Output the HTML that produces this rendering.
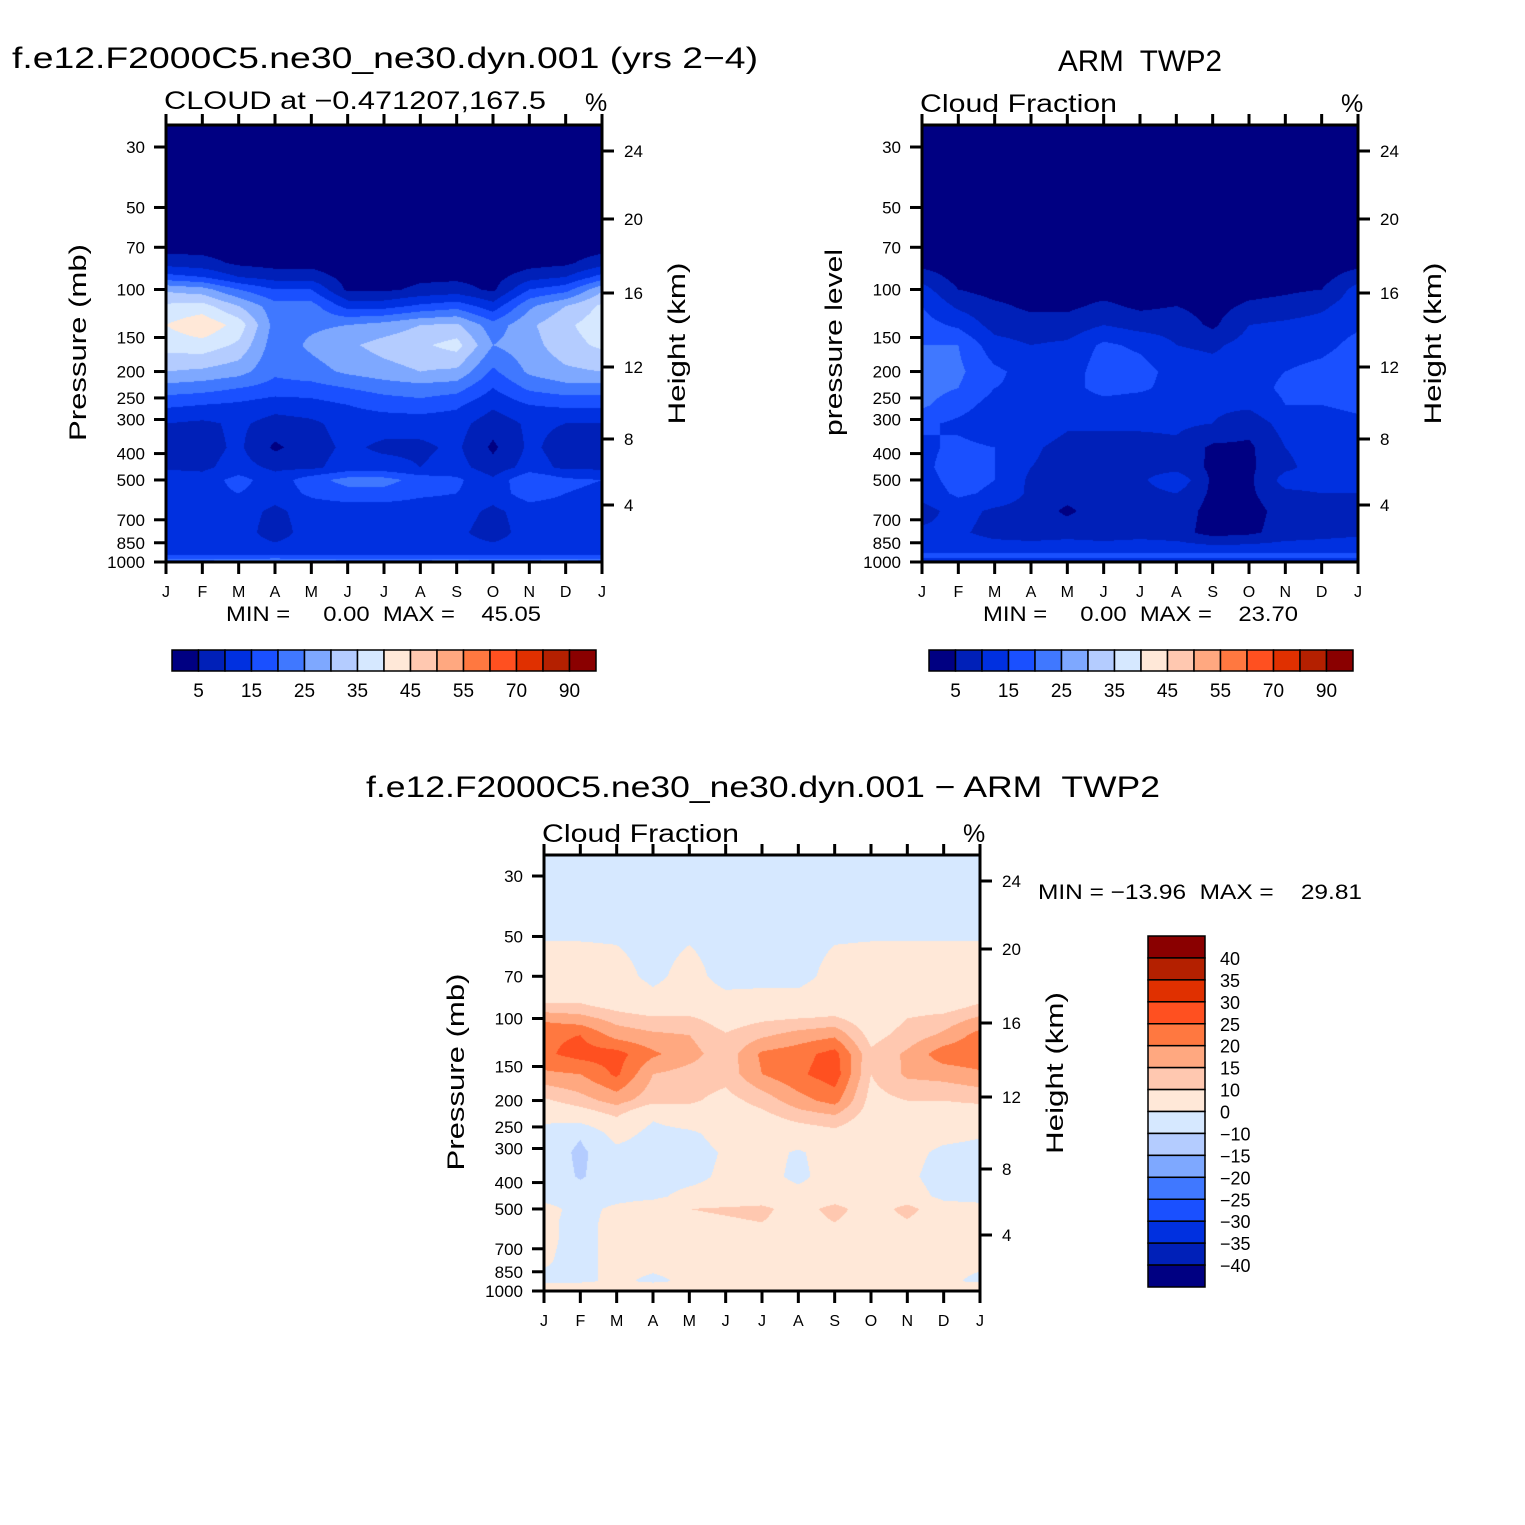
<!DOCTYPE html>
<html><head><meta charset="utf-8"><style>
html,body{margin:0;padding:0;background:#fff;}
#wrap{position:relative;width:1525px;height:1525px;overflow:hidden;background:#fff;}
canvas{position:absolute;}
svg{position:absolute;left:0;top:0;}
text{font-family:"Liberation Sans",sans-serif;fill:#000;white-space:pre;}
</style></head><body>
<div id="wrap">
<canvas id="c1"></canvas>
<canvas id="c2"></canvas>
<canvas id="c3"></canvas>
<svg id="ov" width="1525" height="1525"></svg>
</div>
<script>
const months=['J','F','M','A','M','J','J','A','S','O','N','D','J'];
const presRows=[25,45,70,80,90,100,115,135,160,200,230,265,310,380,450,500,560,650,780,920,960,985,1000];
const modelCloud=[
[1,1,1,1,1,1,1,1,1,1,1,1,1],
[2,2,1,1,1,1,1,1,1,1,1,1,2],
[3,3,2,2,2,1,1,1,1,1,2,2,3],
[8,7,4,3,3,1,1,1,1,1,3,4,8],
[17,15,10,8,8,3,3,4,4,3,8,10,17],
[29,27,20,15,15,4,4,6,7,4,15,18,29],
[36,37,30,22,22,13,13,16,18,12,24,30,36],
[40,44,38,23,24,25,27,30,31,22,29,34,38],
[37,38,34,22,26,29,32,34,37,25,28,33,36],
[30,29,27,21,23,26,28,30,29,19,26,29,30],
[23,22,20,18,18,20,22,23,22,15,21,23,23],
[16,15,14,12,13,15,17,18,16,11,15,16,16],
[10,9,11,8,9,12,12,12,12,7,11,10,10],
[8,8,11,4,8,11,9,9,11,4,11,8,8],
[9,9,12,9,9,12,12,10,12,7,12,9,9],
[14,12,17,12,18,22,22,18,16,11,20,16,15],
[14,13,15,12,16,18,18,16,15,12,18,15,14],
[12,11,12,9,12,12,12,12,12,9,12,12,12],
[12,12,12,8,12,12,12,12,11,8,12,12,12],
[12,12,12,12,12,12,12,12,12,12,12,12,12],
[17,17,17,17,17,17,17,17,17,17,17,17,17],
[21,22,23,24,23,22,21,22,23,21,22,23,21],
[8,8,8,8,8,8,8,8,8,8,8,8,8]];
const armCloud=[
[1,1,1,1,1,1,1,1,1,1,1,1,1],
[1,1,1,1,1,1,1,1,1,1,1,1,1],
[2,2,2,2,2,2,2,2,2,2,2,2,2],
[3,2,2,1,1,2,1,1,1,1,2,2,3],
[8,3,2,2,2,2,2,2,2,2,3,3,8],
[12,5,3,3,3,3,3,3,2,3,4,5,12],
[15,9,6,4,4,6,4,5,3,6,7,9,13],
[17,14,8,7,7,10,8,8,4,10,11,12,14],
[20,20,12,10,11,16,14,10,9,12,12,13,17],
[21,21,16,13,12,18,17,13,12,13,15,17,20],
[22,20,15,14,13,17,16,13,12,13,16,16,18],
[21,17,13,15,12,13,12,12,11,11,15,15,16],
[16,14,12,14,11,11,11,11,10,7,12,13,14],
[14,16,15,11,8,8,8,9,4,4,10,12,13],
[14,17,15,10,8,8,8,8,4,4,9,12,12],
[13,17,15,9,8,8,9,14,4,4,12,12,12],
[12,16,14,9,7,7,8,10,4,4,9,10,10],
[8,12,9,8,4,8,6,8,3,3,7,7,8],
[11,11,8,7,8,7,8,7,3,4,7,8,9],
[14,14,14,14,14,14,14,14,14,14,14,14,14],
[18,18,18,18,18,18,18,18,18,18,18,18,18],
[10,10,10,10,10,10,10,10,10,10,10,10,10],
[4,4,4,4,4,4,4,4,4,4,4,4,4]];
const diffCloud=[
[-3,-3,-3,-3,-3,-3,-3,-3,-3,-3,-3,-3,-3],
[-2,-2,-2,-3,-2,-3,-3,-3,-2,-2,-2,-2,-2],
[4,4,3,-2,3,-3,-3,-3,3,4,4,4,4],
[6,6,5,1,4,0.5,1,1,5,5,5,5,6],
[11,11,8,5,6,4,4,4,6,6,7,7,11],
[19,17,13,11,11,7,9,10,11,6,10,12,16],
[24,25,18,16,15,10.5,14,17,19,8,12,16,22],
[24,27,27,21,17,12,21,23,27,11,16,23,24],
[19,20,26,15,13,12,20,24,28,10,16,17,19],
[9,13,17,12,11,8,12,18,22,8,10,10,11],
[2,5,10,1,6,6,8,12,14,7,7,7,6],
[-3,-9,4,-3,-2,4,5,6,8,5,5,3,1],
[-4,-12,-3,-5,-4,1,3,-1,4,4,3,-2,-3],
[-4,-11,-4,-4,-3,2,3,-2,4,4,2,-4,-4],
[-3,-5,-3,-2,3,4,5,3,5,4,4,-2,-3],
[3,-3,2,6,10,11,12,6,13,5,13,4,3],
[2,-3,3,5,8,9,10,6,10,5,9,3,3],
[2,-3,3,3,4,4,4,4,6,4,4,3,3],
[1,-3,3,3,3,3,3,3,3,3,3,3,2],
[-2,-2,2,-2,2,3,3,3,3,3,3,2,-2],
[5,5,5,5,5,5,5,5,5,5,5,5,5],
[8,8,8,8,8,8,8,8,8,8,8,8,8],
[4,4,4,4,4,4,4,4,4,4,4,4,4]];
const levelsAbs=[5,10,15,20,25,30,35,40,45,50,55,60,70,80,90];
const levelsDiff=[-40,-35,-30,-25,-20,-15,-10,0,10,15,20,25,30,35,40];
const absLabels=['5','15','25','35','45','55','70','90'];
const diffLabels=['40','35','30','25','20','15','10','0','\u221210','\u221215','\u221220','\u221225','\u221230','\u221235','\u221240'];
const palette=['#000082','#0020b8','#0030e0','#1a50ff','#4078ff','#7ea8ff','#b4ccff','#d6e8ff','#ffe8d8','#ffc8b0','#ffa880','#ff7840','#ff5020','#e03000','#b42000','#8a0000'];
const pTicks=[30,50,70,100,150,200,250,300,400,500,700,850,1000];
const hTicks=[24,20,16,12,8,4];
const hTickOffsets=[26,94,168,242,314,380];

const NS='http://www.w3.org/2000/svg';
const ov=document.getElementById('ov');
function el(tag,attrs,parent){const e=document.createElementNS(NS,tag);for(const k in attrs)e.setAttribute(k,attrs[k]);(parent||ov).appendChild(e);return e;}
function txt(s,x,y,size,anchor,extra){const t=el('text',Object.assign({x:x,y:y,'font-size':size,'text-anchor':anchor||'start'},extra||{}));t.textContent=s;return t;}
function hex(c){return [parseInt(c.substr(1,2),16),parseInt(c.substr(3,2),16),parseInt(c.substr(5,2),16)];}
const palRGB=palette.map(hex);
function colorIdx(v,levels){let i=0;while(i<levels.length&&v>=levels[i])i++;return i;}

function drawPlot(cv,left,top,w,bottom,data,levels){
  const h=bottom-top;
  cv.width=w;cv.height=h;cv.style.left=left+'px';cv.style.top=top+'px';
  const ctx=cv.getContext('2d');const img=ctx.createImageData(w,h);
  const yOfP=p=>bottom-272.5*Math.log10(1000/p);
  const rowY=presRows.map(yOfP);
  for(let py=0;py<h;py++){
    const Y=top+py+0.5;let r=0;
    while(r<rowY.length-2&&rowY[r+1]<Y)r++;
    let fy=(Y-rowY[r])/(rowY[r+1]-rowY[r]);fy=Math.max(0,Math.min(1,fy));
    for(let px=0;px<w;px++){
      const m=(px+0.5)/w*12;let c=Math.min(11,Math.floor(m));const fx=m-c;
      const a=data[r][c]*(1-fx)+data[r][c+1]*fx;
      const b=data[r+1][c]*(1-fx)+data[r+1][c+1]*fx;
      const v=a*(1-fy)+b*fy;
      const rgb=palRGB[colorIdx(v,levels)];
      const k=(py*w+px)*4;img.data[k]=rgb[0];img.data[k+1]=rgb[1];img.data[k+2]=rgb[2];img.data[k+3]=255;
    }
  }
  ctx.putImageData(img,0,0);
  return yOfP;
}

function axes(left,top,w,bottom,yOfP,leftTitle,leftLen,prefix){
  const g=el('g',{});
  
  
  el('rect',{x:left,y:top,width:w,height:bottom-top,fill:'none',stroke:'#000','stroke-width':3},g);
  const step=w/12;
  months.forEach((m,i)=>{
    const x=left+i*step;
    el('line',{x1:x,y1:top,x2:x,y2:top-11,stroke:'#000','stroke-width':3},g);
    el('line',{x1:x,y1:bottom,x2:x,y2:bottom+12,stroke:'#000','stroke-width':3},g);
    const t=txt(m,x,bottom+35,16,'middle',{});g.appendChild(t);
  });
  pTicks.forEach(p=>{
    const y=yOfP(p);
    el('line',{x1:left,y1:y,x2:left-12,y2:y,stroke:'#000','stroke-width':3},g);
    const t=txt(String(p),left-21,y+6,17,'end',{});g.appendChild(t);
  });
  hTicks.forEach((hv,i)=>{
    const y=top+hTickOffsets[i];
    el('line',{x1:left+w,y1:y,x2:left+w+12,y2:y,stroke:'#000','stroke-width':3},g);
    const t=txt(String(hv),left+w+22,y+6,17,'start',{});g.appendChild(t);
  });
  const cy=(top+bottom)/2;
  const lt=txt(leftTitle,0,0,24,'middle',{textLength:leftLen,lengthAdjust:'spacingAndGlyphs',transform:'translate('+(left-80)+','+(cy-1)+') rotate(-90)'});
  
  const rt=txt('Height (km)',0,0,24,'middle',{textLength:162,lengthAdjust:'spacingAndGlyphs',transform:'translate('+(left+w+83)+','+(cy)+') rotate(-90)'});
  
}

function hbar(left,top,prefix){
  const bw=26.5,bh=21;
  palette.forEach((c,i)=>{
    const r=el('rect',{x:left+i*bw,y:top,width:bw,height:bh,fill:c,stroke:'#000','stroke-width':1.5});
    
  });
  absLabels.forEach((l,i)=>{
    const t=txt(l,left+(2*i+1)*bw,top+47,19,'middle');
    
  });
}

const y1=drawPlot(document.getElementById('c1'),166,125,436,562,modelCloud,levelsAbs);
const y2=drawPlot(document.getElementById('c2'),922,125,436,562,armCloud,levelsAbs);
const y3=drawPlot(document.getElementById('c3'),544,855,436,1291,diffCloud,levelsDiff);
axes(166,125,436,562,y1,'Pressure (mb)',197,'model');
axes(922,125,436,562,y2,'pressure level',187,'arm');
axes(544,855,436,1291,y3,'Pressure (mb)',197,'diff');
hbar(172,650,'model');
hbar(929,650,'arm');

(function(){
  const left=1148,top=936,bw=57,bh=351/16;
  for(let i=0;i<16;i++){
    const r=el('rect',{x:left,y:top+i*bh,width:bw,height:bh,fill:palette[15-i],stroke:'#000','stroke-width':1.5});
    
  }
  diffLabels.forEach((l,i)=>{
    const t=txt(l,left+72,top+(i+1)*bh+7,18,'start');
    
  });
})();

function label(s,x,y,size,name,len,anchor){
  const t=txt(s,x,y,size,anchor||'start',len?{textLength:len,lengthAdjust:'spacingAndGlyphs'}:{});
  return t;
}
label('f.e12.F2000C5.ne30_ne30.dyn.001 (yrs 2\u22124)',12,68,30,'model-title',746);
label('ARM  TWP2',1058,71,30,'arm-title',164);
label('CLOUD at \u22120.471207,167.5',164,109,25,'model-subtitle',382);
label('%',585,111,25,'model-units');
label('Cloud Fraction',920,112,25,'arm-subtitle',197);
label('%',1341,112,25,'arm-units');
label('MIN =     0.00  MAX =    45.05',226,621,21,'model-min-max',315);
label('MIN =     0.00  MAX =    23.70',983,621,21,'arm-min-max',315);
label('f.e12.F2000C5.ne30_ne30.dyn.001 \u2212 ARM  TWP2',366,797,30,'diff-title',794);
label('Cloud Fraction',542,842,25,'diff-subtitle',197);
label('%',963,842,25,'diff-units');
label('MIN = \u221213.96  MAX =    29.81',1038,899,21,'diff-min-max',324);
</script>
</body></html>
